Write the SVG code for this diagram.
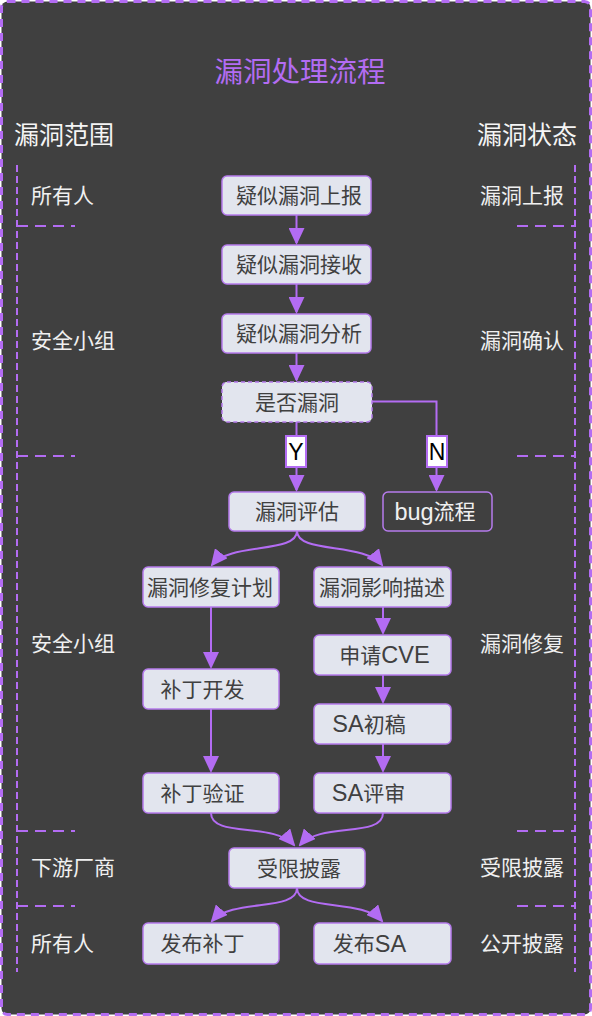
<svg xmlns="http://www.w3.org/2000/svg" width="592" height="1016" viewBox="0 0 592 1016">
<style>
.bg{fill:#404040;stroke:#b36cf3;stroke-width:3;stroke-dasharray:8 6}
.lv{fill:none;stroke:#b36cf3;stroke-width:2;stroke-dasharray:7 4}
.lh{fill:none;stroke:#b36cf3;stroke-width:2;stroke-dasharray:11 7}
.nd{fill:#e2e5ee;stroke:#b57bec;stroke-width:1.5}
.ndd{fill:#e2e5ee;stroke:#b57bec;stroke-width:1.5;stroke-dasharray:4 3}
.nb{fill:#404040;stroke:#b57bec;stroke-width:1.5}
.t{font-family:"Liberation Sans","Noto Sans CJK SC",sans-serif;font-size:21px;fill:#404040;text-anchor:middle;dominant-baseline:central}
.tw{font-family:"Liberation Sans","Noto Sans CJK SC",sans-serif;font-size:21px;fill:#f0f0f0;dominant-baseline:central}
.la{font-size:23.5px}
.hd{font-family:"Liberation Sans","Noto Sans CJK SC",sans-serif;font-size:25px;fill:#f5f5f5;dominant-baseline:central}
.ttl{font-family:"Liberation Sans","Noto Sans CJK SC",sans-serif;font-size:28.5px;fill:#b36cf3;text-anchor:middle;dominant-baseline:central}
.e{fill:none;stroke:#b36cf3;stroke-width:2}
.lb{fill:#ffffff;stroke:#b36cf3;stroke-width:2}
.lt{font-family:"Liberation Sans",sans-serif;font-size:23px;fill:#000;text-anchor:middle;dominant-baseline:central}
</style>
<defs>
<marker id="ar" viewBox="0 0 17 16" refX="15" refY="8" markerWidth="17" markerHeight="16" markerUnits="userSpaceOnUse" orient="auto">
<path d="M0,0 L17,8 L0,16 z" fill="#b36cf3"/>
</marker>
</defs>
<rect class="bg" x="1.5" y="1.5" width="589" height="1013" rx="6"/>
<text class="ttl" x="300" y="72">漏洞处理流程</text>
<text class="hd" x="14" y="135">漏洞范围</text>
<text class="hd" x="577" y="135" text-anchor="end">漏洞状态</text>
<g id="lanes">
<path class="lv" d="M17,165 V972 M575,165 V972"/>
<path class="lh" d="M17,226 H75 M17,456 H75 M17,831 H75 M17,906 H75"/>
<path class="lh" d="M517,226 H575 M517,456 H575 M517,831 H575 M517,906 H575"/>
<text class="tw" x="31" y="195">所有人</text>
<text class="tw" x="31" y="340">安全小组</text>
<text class="tw" x="31" y="643">安全小组</text>
<text class="tw" x="31" y="867">下游厂商</text>
<text class="tw" x="31" y="943">所有人</text>
<text class="tw" x="564" y="195" text-anchor="end">漏洞上报</text>
<text class="tw" x="564" y="340" text-anchor="end">漏洞确认</text>
<text class="tw" x="564" y="643" text-anchor="end">漏洞修复</text>
<text class="tw" x="564" y="867" text-anchor="end">受限披露</text>
<text class="tw" x="564" y="943" text-anchor="end">公开披露</text>
</g>
<g id="connectors">
<path class="e" marker-end="url(#ar)" d="M296.5,215 V243"/>
<path class="e" marker-end="url(#ar)" d="M296.5,284 V312"/>
<path class="e" marker-end="url(#ar)" d="M296.5,353 V380"/>
<path class="e" marker-end="url(#ar)" d="M296.5,422 V490"/>
<path class="e" marker-end="url(#ar)" d="M372,401.5 H436.5 V490"/>
<path class="e" marker-end="url(#ar)" d="M297,531 C297,554 230,542 212,565"/>
<path class="e" marker-end="url(#ar)" d="M297,531 C297,554 364,542 382,565"/>
<path class="e" marker-end="url(#ar)" d="M211,607 V667"/>
<path class="e" marker-end="url(#ar)" d="M211,709 V771"/>
<path class="e" marker-end="url(#ar)" d="M383,607 V633"/>
<path class="e" marker-end="url(#ar)" d="M383,675 V702"/>
<path class="e" marker-end="url(#ar)" d="M383,744 V771"/>
<path class="e" marker-end="url(#ar)" d="M211,813 C211,838 274,822 294,845"/>
<path class="e" marker-end="url(#ar)" d="M383,813 C383,838 320,822 300,845"/>
<path class="e" marker-end="url(#ar)" d="M297,888 C297,912 232,898 212,921"/>
<path class="e" marker-end="url(#ar)" d="M297,888 C297,912 362,898 382,921"/>
<rect class="lb" x="286" y="436" width="20" height="31"/>
<text class="lt" x="296" y="452">Y</text>
<rect class="lb" x="427" y="436" width="20" height="31"/>
<text class="lt" x="437" y="452">N</text>
</g>
<g id="n1"><rect class="nd" x="222" y="176" width="149" height="39" rx="5"/><text class="t" x="299" y="195.5">疑似漏洞上报</text></g>
<g id="n2"><rect class="nd" x="222" y="245" width="149" height="39" rx="5"/><text class="t" x="299" y="264.5">疑似漏洞接收</text></g>
<g id="n3"><rect class="nd" x="222" y="314" width="149" height="39" rx="5"/><text class="t" x="299" y="333.5">疑似漏洞分析</text></g>
<g id="n4"><rect class="ndd" x="222" y="382" width="150" height="40" rx="5"/><text class="t" x="297" y="402">是否漏洞</text></g>
<g id="n5"><rect class="nd" x="229" y="492" width="136" height="39" rx="5"/><text class="t" x="297" y="511.5">漏洞评估</text></g>
<g id="n6"><rect class="nb" x="383" y="492" width="109" height="39" rx="5"/><text class="tw" x="435" y="511.5" text-anchor="middle"><tspan class="la">bug</tspan>流程</text></g>
<g id="n7"><rect class="nd" x="143" y="567" width="136" height="40" rx="5"/><text class="t" x="210" y="587">漏洞修复计划</text></g>
<g id="n8"><rect class="nd" x="314" y="567" width="137" height="40" rx="5"/><text class="t" x="382" y="587">漏洞影响描述</text></g>
<g id="n9"><rect class="nd" x="143" y="669" width="136" height="40" rx="5"/><text class="t" x="202.5" y="689">补丁开发</text></g>
<g id="n10"><rect class="nd" x="314" y="635" width="137" height="40" rx="5"/><text class="t" x="384.5" y="655">申请<tspan class="la">CVE</tspan></text></g>
<g id="n11"><rect class="nd" x="314" y="704" width="137" height="40" rx="5"/><text class="t" x="369" y="724"><tspan class="la">SA</tspan>初稿</text></g>
<g id="n12"><rect class="nd" x="143" y="773" width="136" height="40" rx="5"/><text class="t" x="202.5" y="793">补丁验证</text></g>
<g id="n13"><rect class="nd" x="314" y="773" width="137" height="40" rx="5"/><text class="t" x="368.5" y="793"><tspan class="la">SA</tspan>评审</text></g>
<g id="n14"><rect class="nd" x="229" y="848" width="136" height="40" rx="5"/><text class="t" x="299" y="868">受限披露</text></g>
<g id="n15"><rect class="nd" x="143" y="923" width="136" height="41" rx="5"/><text class="t" x="202.5" y="943.5">发布补丁</text></g>
<g id="n16"><rect class="nd" x="314" y="923" width="137" height="41" rx="5"/><text class="t" x="369.5" y="943.5">发布<tspan class="la">SA</tspan></text></g>
</svg>
